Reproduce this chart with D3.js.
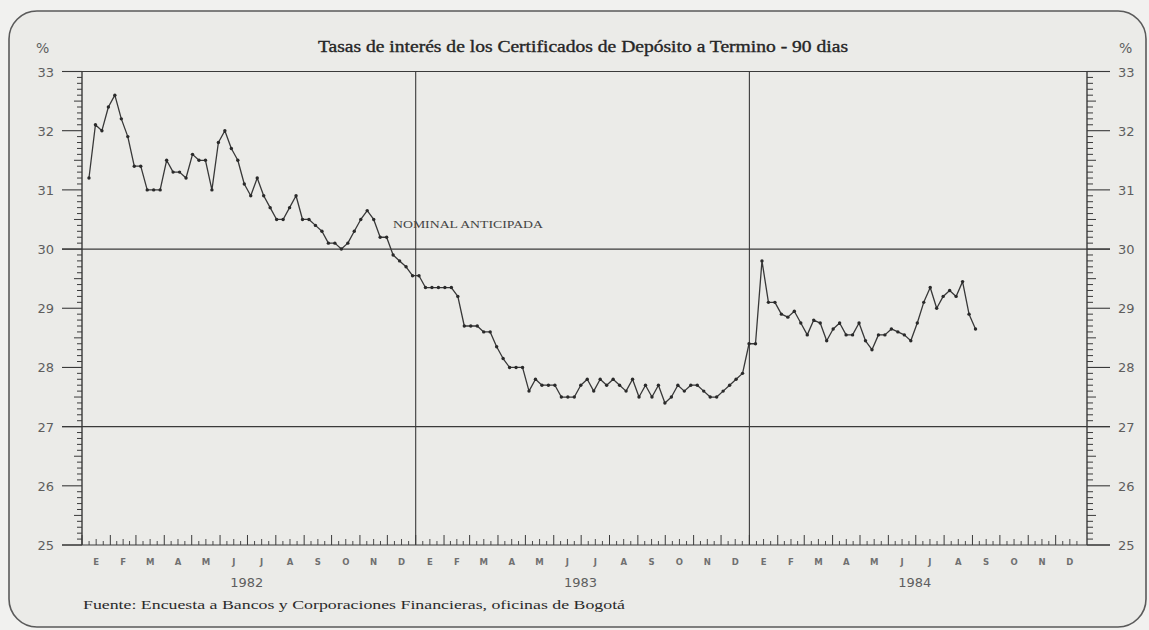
<!DOCTYPE html>
<html>
<head>
<meta charset="utf-8">
<script src="https://cdnjs.cloudflare.com/ajax/libs/d3/7.8.5/d3.min.js"></script>
<style>
  body { margin: 0; background: #f1f1ef; }
  svg { display: block; }
</style>
</head>
<body>
<div id="chart"></div>
<script>
// Weekly rates (one value per week)
const rates1982 = [31.2, 32.1, 32.0, 32.4, 32.6, 32.2, 31.9, 31.4, 31.4, 31.0,
  31.0, 31.0, 31.5, 31.3, 31.3, 31.2, 31.6, 31.5, 31.5, 31.0,
  31.8, 32.0, 31.7, 31.5, 31.1, 30.9, 31.2, 30.9, 30.7, 30.5,
  30.5, 30.7, 30.9, 30.5, 30.5, 30.4, 30.3, 30.1, 30.1, 30.0,
  30.1, 30.3, 30.5, 30.65, 30.5, 30.2, 30.2, 29.9, 29.8, 29.7,
  29.55, 29.55];
const rates1983 = [29.35, 29.35, 29.35, 29.35, 29.35, 29.2, 28.7, 28.7, 28.7, 28.6,
  28.6, 28.35, 28.15, 28.0, 28.0, 28.0, 27.6, 27.8, 27.7, 27.7,
  27.7, 27.5, 27.5, 27.5, 27.7, 27.8, 27.6, 27.8, 27.7, 27.8,
  27.7, 27.6, 27.8, 27.5, 27.7, 27.5, 27.7, 27.4, 27.5, 27.7,
  27.6, 27.7, 27.7, 27.6, 27.5, 27.5, 27.6, 27.7, 27.8, 27.9,
  28.4, 28.4];
const rates1984 = [29.8, 29.1, 29.1, 28.9, 28.85, 28.95, 28.75, 28.55, 28.8, 28.75,
  28.45, 28.65, 28.75, 28.55, 28.55, 28.75, 28.45, 28.3, 28.55, 28.55,
  28.65, 28.6, 28.55, 28.45, 28.75, 29.1, 29.35, 29.0, 29.2, 29.3,
  29.2, 29.45, 28.9, 28.65];

const monthLabels = ['E', 'F', 'M', 'A', 'M', 'J', 'J', 'A', 'S', 'O', 'N', 'D'];
const years = [1982, 1983, 1984];
const yMajor = [25, 26, 27, 28, 29, 30, 31, 32, 33];
const gridLines = [25, 27, 30, 33];

const titleText = 'Tasas de interés de los Certificados de Depósito a Termino - 90 dias';
const seriesLabel = 'NOMINAL ANTICIPADA';
const sourceText = 'Fuente: Encuesta a Bancos y Corporaciones Financieras, oficinas de Bogotá';

const W = 1149, H = 630;
const plotLeft = 82, plotRight = 1087, plotTop = 71.5, plotBottom = 545;

const rates = rates1982.concat(rates1983, rates1984);

const svg = d3.select('#chart').append('svg')
  .attr('width', W)
  .attr('height', H);

// paper + rounded frame
svg.append('rect')
  .attr('x', 9).attr('y', 11)
  .attr('width', 1137).attr('height', 616)
  .attr('rx', 28).attr('ry', 28)
  .attr('fill', '#ebebe8')
  .attr('stroke', '#5a5a5a')
  .attr('stroke-width', 1.6);

const y = d3.scaleLinear().domain([25, 33]).range([plotBottom, plotTop]);
// calendar axis (the hand-drawn months)
const x = d3.scaleTime()
  .domain([new Date(1982, 0, 1), new Date(1985, 0, 1)])
  .range([plotLeft, 1084]);
// week index for the plotted points
const xw = d3.scaleLinear().domain([0, 156]).range([82.5, 1092]);

const ink = '#3a3a3a';
const g = svg.append('g');

// horizontal rules
g.selectAll('.grid')
  .data(gridLines)
  .enter().append('line')
  .attr('x1', 62).attr('x2', 1110)
  .attr('y1', d => y(d)).attr('y2', d => y(d))
  .attr('stroke', ink).attr('stroke-width', 1.2);

// year separators
g.selectAll('.yearline')
  .data(years.slice(1))
  .enter().append('line')
  .attr('x1', d => x(new Date(d, 0, 1))).attr('x2', d => x(new Date(d, 0, 1)))
  .attr('y1', plotTop).attr('y2', plotBottom)
  .attr('stroke', ink).attr('stroke-width', 1.1);

// side axes
[plotLeft, plotRight].forEach(px => {
  g.append('line')
    .attr('x1', px).attr('x2', px)
    .attr('y1', plotTop).attr('y2', plotBottom)
    .attr('stroke', ink).attr('stroke-width', 1.4);
});

// y ticks, tenths
const tenths = d3.range(250, 331).map(v => v / 10);
tenths.forEach(v => {
  const k = Math.round(v * 10) % 10;
  if (k === 0) {
    g.append('line').attr('x1', 62).attr('x2', plotLeft)
      .attr('y1', y(v)).attr('y2', y(v)).attr('stroke', ink).attr('stroke-width', 1.1);
    g.append('line').attr('x1', plotRight).attr('x2', 1110)
      .attr('y1', y(v)).attr('y2', y(v)).attr('stroke', ink).attr('stroke-width', 1.1);
    return;
  }
  const len = k === 5 ? 8 : 5;
  g.append('line').attr('x1', plotLeft - len).attr('x2', plotLeft)
    .attr('y1', y(v)).attr('y2', y(v)).attr('stroke', ink).attr('stroke-width', 1);
  g.append('line').attr('x1', plotRight).attr('x2', plotRight + len + 1)
    .attr('y1', y(v)).attr('y2', y(v)).attr('stroke', ink).attr('stroke-width', 1);
});

// y labels both sides
const axisFont = 'DejaVu Sans, sans-serif';
g.selectAll('.ylabL')
  .data(yMajor)
  .enter().append('text')
  .attr('x', 54).attr('y', d => y(d) + 5)
  .attr('text-anchor', 'end')
  .attr('font-family', axisFont).attr('font-size', 13)
  .attr('fill', '#5e5e5e')
  .text(d => d);
g.selectAll('.ylabR')
  .data(yMajor)
  .enter().append('text')
  .attr('x', 1118).attr('y', d => y(d) + 5)
  .attr('font-family', axisFont).attr('font-size', 13)
  .attr('fill', '#5e5e5e')
  .text(d => d);
g.append('text').attr('x', 36).attr('y', 53)
  .attr('font-family', axisFont).attr('font-size', 14).attr('fill', '#5e5e5e').text('%');
g.append('text').attr('x', 1119).attr('y', 53)
  .attr('font-family', axisFont).attr('font-size', 14).attr('fill', '#5e5e5e').text('%');

// month ticks and labels
const months = d3.timeMonth.range(new Date(1982, 0, 1), new Date(1985, 0, 1));
months.forEach((m, i) => {
  const x0 = x(m), x1 = x(d3.timeMonth.offset(m, 1));
  g.append('line').attr('x1', x0).attr('x2', x0)
    .attr('y1', plotBottom).attr('y2', plotBottom - 10)
    .attr('stroke', ink).attr('stroke-width', 1);
  [1, 2, 3].forEach(q => {
    const xq = x0 + (x1 - x0) * q / 4;
    g.append('line').attr('x1', xq).attr('x2', xq)
      .attr('y1', plotBottom).attr('y2', plotBottom - (q === 2 ? 6 : 4))
      .attr('stroke', ink).attr('stroke-width', 0.9);
  });
  g.append('text')
    .attr('x', (x0 + x1) / 2).attr('y', 565)
    .attr('text-anchor', 'middle')
    .attr('font-family', axisFont).attr('font-size', 8.5)
    .attr('font-weight', 'bold')
    .attr('fill', '#707070')
    .text(monthLabels[i % 12]);
});

g.selectAll('.year')
  .data(years)
  .enter().append('text')
  .attr('x', d => (x(new Date(d, 0, 1)) + x(new Date(d + 1, 0, 1))) / 2 - 2)
  .attr('y', 587)
  .attr('text-anchor', 'middle')
  .attr('font-family', axisFont).attr('font-size', 13)
  .attr('fill', '#5e5e5e')
  .text(d => d);

// series
const line = d3.line()
  .x((d, i) => xw(i + 1))
  .y(d => y(d));

g.append('path')
  .datum(rates)
  .attr('d', line)
  .attr('fill', 'none')
  .attr('stroke', '#383838')
  .attr('stroke-width', 1.3)
  .attr('stroke-linejoin', 'round');

g.selectAll('.pt')
  .data(rates)
  .enter().append('circle')
  .attr('cx', (d, i) => xw(i + 1))
  .attr('cy', d => y(d))
  .attr('r', 1.7)
  .attr('fill', '#2a2a2a');

// texts
const serif = 'Liberation Serif, Times New Roman, serif';
svg.append('text')
  .attr('x', 318).attr('y', 52)
  .attr('font-family', serif).attr('font-size', 16)
  .attr('fill', '#262626')
  .attr('stroke', '#262626').attr('stroke-width', 0.35)
  .attr('textLength', 530).attr('lengthAdjust', 'spacingAndGlyphs')
  .text(titleText);

svg.append('text')
  .attr('x', 393).attr('y', 228)
  .attr('font-family', serif).attr('font-size', 10)
  .attr('fill', '#444')
  .attr('textLength', 150).attr('lengthAdjust', 'spacingAndGlyphs')
  .text(seriesLabel);

svg.append('text')
  .attr('x', 83).attr('y', 609)
  .attr('font-family', serif).attr('font-size', 13.5)
  .attr('fill', '#2a2a2a')
  .attr('textLength', 542).attr('lengthAdjust', 'spacingAndGlyphs')
  .text(sourceText);
</script>
</body>
</html>
